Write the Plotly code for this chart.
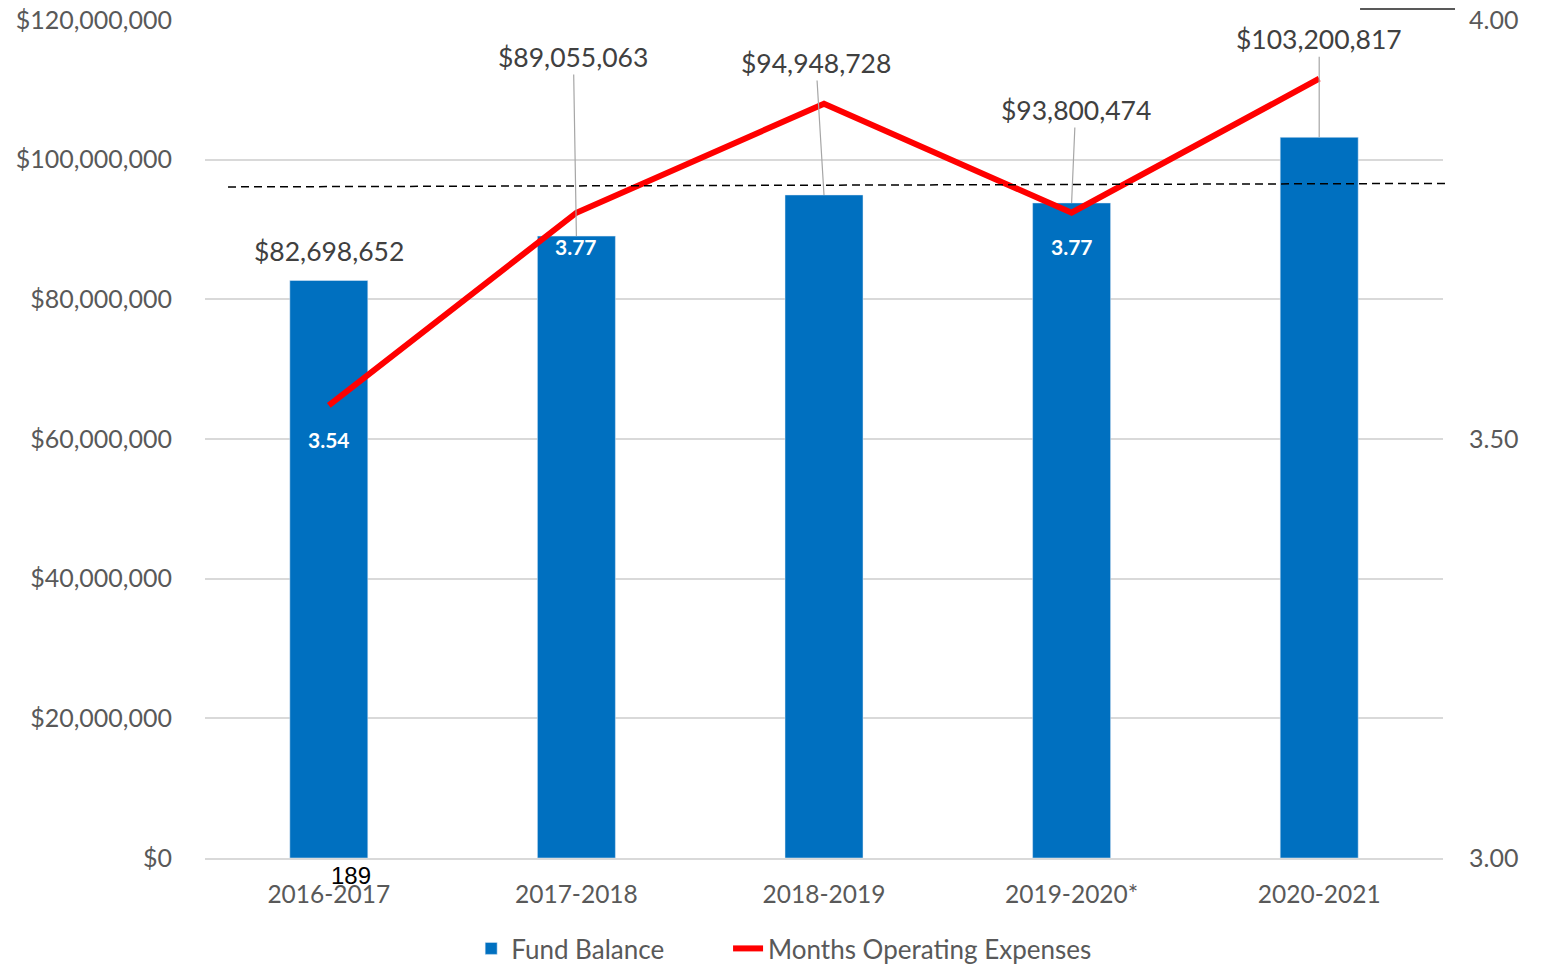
import plotly.graph_objects as go

years = ["2016-2017", "2017-2018", "2018-2019", "2019-2020*", "2020-2021"]
fund_balance = [82698652, 89055063, 94948728, 93800474, 103200817]
months_opex = [3.54, 3.77, 3.90, 3.77, 3.93]
fund_labels = ["$82,698,652", "$89,055,063", "$94,948,728", "$93,800,474", "$103,200,817"]
month_labels = ["3.54", "3.77", "", "3.77", ""]
dashed_level = [96100000, 96600000]
# label offsets in pixels (x, y) relative to bar top
label_offsets = [(0, -29), (-3, -179), (-8, -132), (4, -93), (0, -98)]

font = "Lato"
grey = "#595959"

fig = go.Figure()
fig.add_trace(go.Bar(
    x=years, y=fund_balance, name="Fund Balance",
    marker_color="#0070c0", width=0.315, legend="legend",
))
fig.add_trace(go.Scatter(
    x=years, y=months_opex, name="Months Operating Expenses",
    mode="lines", line=dict(color="#ff0000", width=6), yaxis="y2", legend="legend2",
))

for yr, val, lab, (ax, ay) in zip(years, fund_balance, fund_labels, label_offsets):
    if ax == 0 and ay == -29:
        fig.add_annotation(x=yr, y=val, text=lab, showarrow=False, yshift=-ay,
                           font=dict(family=font, size=26.5, color="#404040"))
    else:
        fig.add_annotation(x=yr, y=val, text=lab, showarrow=True, arrowhead=0,
                           arrowwidth=1.2, arrowcolor="#a6a6a6", ax=ax, ay=ay,
                           standoff=0,
                           font=dict(family=font, size=26.5, color="#404040"))

for yr, val, lab in zip(years, months_opex, month_labels):
    if lab:
        fig.add_annotation(x=yr, y=val, yref="y2", text="<b>" + lab + "</b>",
                           showarrow=False, yshift=-34,
                           font=dict(family=font, size=21, color="white"))

fig.add_annotation(x=years[0], y=0, text="189", showarrow=False, xshift=22, yshift=-17,
                   font=dict(family="Liberation Sans", size=24, color="black"))

fig.add_shape(type="line", xref="paper", yref="y", x0=0.0186, x1=1.0016,
              y0=dashed_level[0], y1=dashed_level[1],
              line=dict(color="black", width=1.5, dash="8px,5px"))
fig.add_shape(type="line", xref="paper", yref="paper", x0=0.933, x1=1.0097,
              y0=1.013, y1=1.013, line=dict(color="#595959", width=2))

legend_style = dict(orientation="h", xanchor="left", y=-0.108, yanchor="middle",
                    font=dict(family=font, size=26, color=grey))

fig.update_layout(
    width=1539, height=957,
    margin=dict(l=197, r=104, t=12, b=107, autoexpand=False),
    plot_bgcolor="white", paper_bgcolor="white",
    font=dict(family=font, size=25, color=grey),
    showlegend=True,
    legend=dict(x=0.215, **legend_style),
    legend2=dict(x=0.4225, **legend_style),
    xaxis=dict(showline=True, linecolor="#d9d9d9", linewidth=1.5, ticks="",
               ticklabelstandoff=14, tickfont=dict(size=24.5, color=grey)),
    yaxis=dict(range=[0, 120000000], dtick=20000000, tickprefix="$", tickformat=",",
               gridcolor="#d9d9d9", gridwidth=1.5, zeroline=False,
               ticklabeloverflow="allow",
               ticklabelstandoff=32, tickfont=dict(size=25, color=grey)),
    yaxis2=dict(range=[3, 4], tickvals=[3, 3.5, 4], tickformat=".2f", overlaying="y",
                side="right", showgrid=False, zeroline=False,
                ticklabeloverflow="allow",
                ticklabelstandoff=25, tickfont=dict(size=25, color=grey)),
)

fig.write_html("out.html")
